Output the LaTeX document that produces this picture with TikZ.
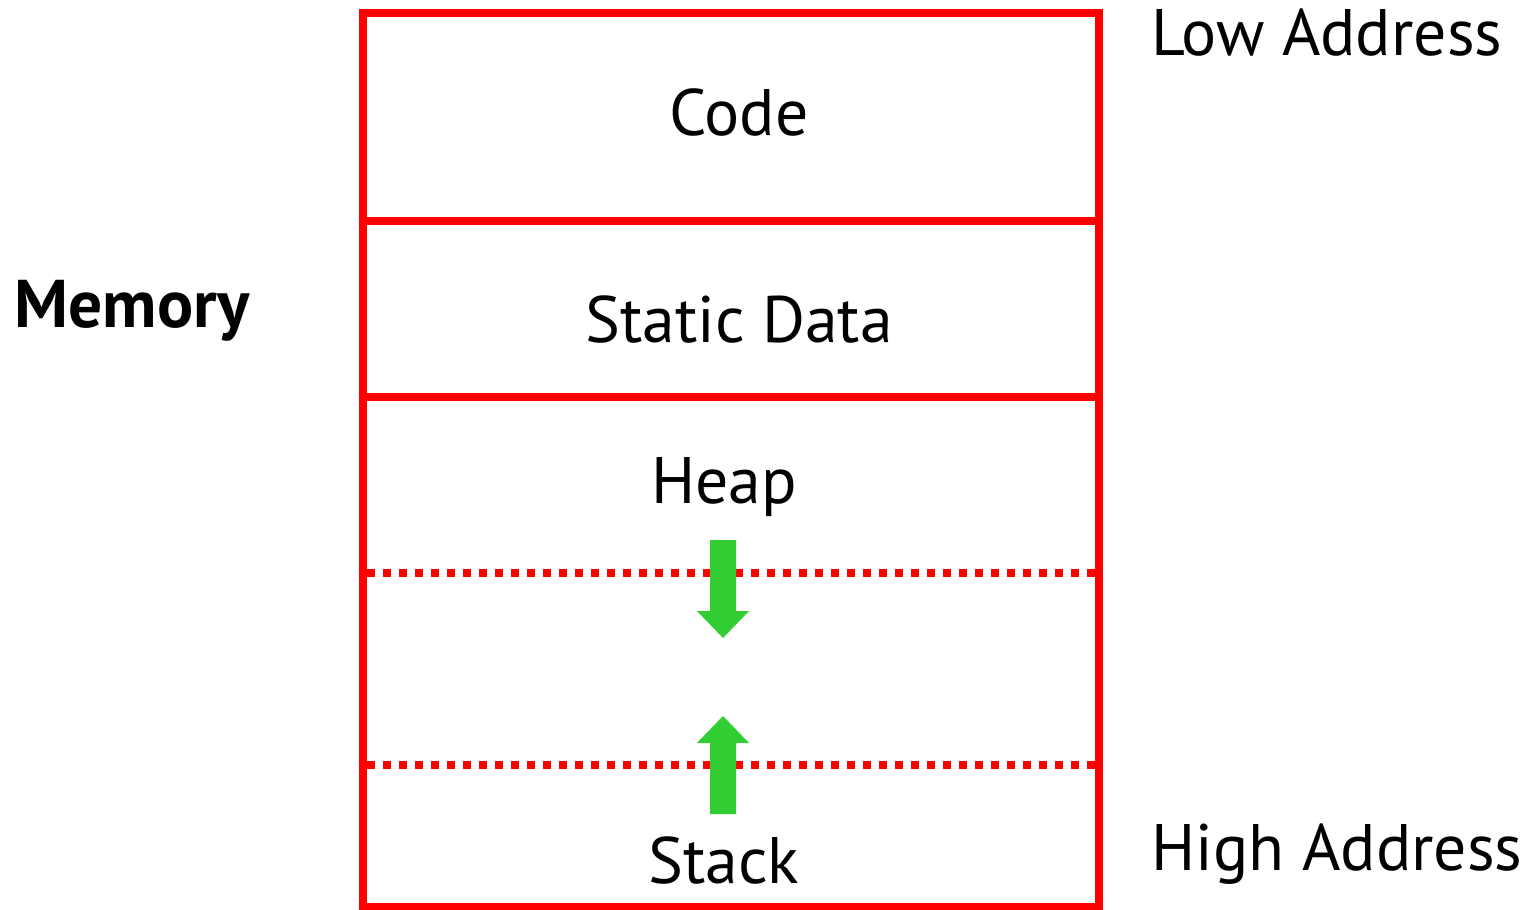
\documentclass[tikz,border=0pt]{standalone}
\usepackage{fontspec}
\setmainfont{PT Sans}
\usepackage{tikz}
\definecolor{limegreen}{RGB}{50,205,50}

\begin{document}
\begin{tikzpicture}[
  wall/.style={draw=red, line width=0.08cm},
  gap/.style={draw=red, line width=0.08cm, dash pattern=on 0.08cm off 0.08cm},
  growarrow/.style={fill=limegreen},
  lbl/.style={font=\fontsize{18.7}{22}\selectfont, inner sep=0pt, anchor=base}
]
\useasboundingbox (0,0) rectangle (15.22,-9.09);

% the memory block
\draw[wall] (3.63,-0.13) rectangle (10.99,-9.065);
\draw[wall] (3.63,-2.21) -- (10.99,-2.21);
\draw[wall] (3.63,-3.97) -- (10.99,-3.97);
\draw[gap] (3.67,-5.73) -- (10.95,-5.73);
\draw[gap] (3.67,-7.65) -- (10.95,-7.65);

% growth arrows
\fill[growarrow] (7.10,-5.40) -- (7.36,-5.40) -- (7.36,-6.11) -- (7.49,-6.11)
  -- (7.23,-6.38) -- (6.97,-6.11) -- (7.10,-6.11) -- cycle;
\fill[growarrow] (7.10,-8.14) -- (7.36,-8.14) -- (7.36,-7.43) -- (7.49,-7.43)
  -- (7.23,-7.16) -- (6.97,-7.43) -- (7.10,-7.43) -- cycle;

% labels
\node[lbl] (code) at (7.39,-1.35) {Code};
\node[lbl] (static) at (7.39,-3.42) {Static Data};
\node[lbl] (heap) at (7.24,-5.03) {Heap};
\node[lbl] (stack) at (7.24,-8.83) {Stack};
\node[lbl, font=\fontsize{19.2}{22}\selectfont\bfseries] (mem) at (1.32,-3.27) {Memory};
\node[lbl, anchor=base west] (low) at (11.51,-0.55) {Low Address};
\node[lbl, anchor=base west] (high) at (11.51,-8.70) {High Address};

\end{tikzpicture}
\end{document}
